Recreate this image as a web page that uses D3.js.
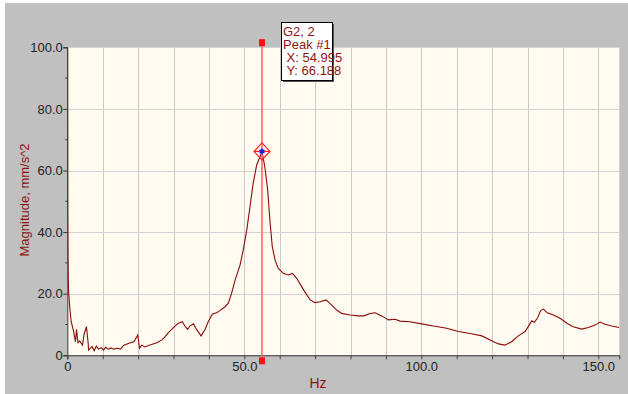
<!DOCTYPE html>
<html>
<head>
<meta charset="utf-8">
<script src="https://cdn.jsdelivr.net/npm/d3@7"></script>
<style>
  body { margin: 0; background: #fff; }
  svg { display: block; font-family: "Liberation Sans", Arial, sans-serif; }
</style>
</head>
<body>
<div id="chart"></div>
<script>
// spectrum (Hz, mm/s^2)
var freq = [0, 0.1, 0.25, 0.4, 0.76, 1.1, 1.8, 2.3, 2.6, 3.0, 3.5, 4.3, 4.7, 5.4, 5.9, 6.0, 7.0, 7.6, 8.2, 8.8,
  9.6, 10.2, 10.8, 11.6, 12.3, 13.2, 14.1, 15.0, 16.0, 17.4, 18.8, 19.1, 19.9, 20.4, 21.0, 21.9, 22.9, 23.8, 25.3, 26.7,
  27.6, 28.5, 29.5, 30.4, 31.4, 32.5, 33.2, 34.0, 34.6, 35.6, 36.5, 37.8, 38.9, 39.8, 41.0, 42.2, 43.1, 44.4, 45.5, 46.4,
  47.4, 48.8, 49.7, 50.7, 51.6, 52.5, 53.5, 54.995, 55.8, 56.6, 57.3, 57.9, 58.7, 59.6, 61.0, 62.4, 63.6, 64.8, 66.2, 67.1,
  68.6, 70.0, 71.4, 73.1, 74.7, 76.1, 77.5, 79.9, 82.2, 83.8, 85.5, 86.9, 88.8, 90.7, 92.6, 94.0, 96.8, 100.1, 103.4, 107.2,
  110.5, 113.8, 117.1, 119.4, 121.8, 123.6, 125.5, 127.4, 129.3, 130.2, 131.2, 131.9, 132.8, 133.7, 134.5, 135.6, 137.3, 139.2, 141.1,
  142.9, 145.3, 147.2, 149.1, 150.5, 151.9, 153.8, 155.9];
var mag = [120, 45, 25, 20, 14.7, 10.9, 7.7, 4.4, 8.4, 4.1, 4.6, 3.3, 6.6, 9.3, 3.9, 1.7, 2.8, 1.5, 3.0, 2.0,
  2.5, 1.7, 2.6, 2.0, 2.4, 2.0, 2.3, 2.0, 3.3, 3.9, 4.4, 5.0, 6.6, 2.3, 3.3, 2.7, 3.2, 3.5, 4.1, 5.0,
  6.0, 7.3, 8.4, 9.5, 10.4, 10.9, 9.5, 8.4, 9.5, 10.2, 8.4, 6.3, 8.4, 10.9, 13.4, 13.8, 14.5, 15.6, 16.9, 20.1,
  24.4, 29.3, 34.2, 40.7, 48.2, 55.8, 61.8, 66.188, 61.2, 53.7, 42.9, 35.3, 30.9, 28.2, 26.6, 26.1, 26.6, 25.0, 22.3, 20.6,
  18.0, 17.1, 17.4, 18.0, 16.3, 14.7, 13.6, 13.1, 12.8, 12.8, 13.6, 13.8, 12.8, 11.5, 11.7, 11.1, 10.9, 10.2, 9.5, 8.8,
  7.7, 7.1, 6.3, 5.0, 3.7, 3.3, 4.4, 6.3, 7.7, 9.3, 11.2, 10.7, 12.0, 14.5, 15.0, 13.8, 13.1, 12.0, 10.4,
  9.3, 8.5, 9.0, 9.8, 10.8, 10.1, 9.5, 9.0];

var yTicks = [0, 20, 40, 60, 80, 100];
var yTickLabels = ["0", "20.0", "40.0", "60.0", "80.0", "100.0"];
var xTicks = [0, 50, 100, 150];
var xTickLabels = ["0", "50.0", "100.0", "150.0"];
var peakLabel = ["G2, 2", "Peak #1", " X: 54.995", " Y: 66.188"];
var peak = {f: 54.995, v: 66.188};

(function() {
var width = 628, height = 394;
var pLeft = 67.3, pRight = 619.3, pTop = 47.3, pBottom = 355.3;
var darkRed = "#8e1414";

var svg = d3.select("#chart").append("svg")
    .attr("width", width)
    .attr("height", height);

// frame
svg.append("rect").attr("width", width).attr("height", height).attr("fill", "#ffffff");
svg.append("rect").attr("x", 5).attr("y", 3).attr("width", width - 5).attr("height", height - 3).attr("fill", "#c0c0c0");

var x = d3.scaleLinear().domain([0, 155.93]).range([pLeft, pRight]);
var y = d3.scaleLinear().domain([0, 100]).range([pBottom, pTop]);

svg.append("rect")
    .attr("x", pLeft).attr("y", pTop)
    .attr("width", pRight - pLeft).attr("height", pBottom - pTop)
    .attr("fill", "#fffbf0");

// grid
svg.append("g").selectAll("line")
    .data(d3.range(10, 156, 10))
    .enter().append("line")
    .attr("x1", d => Math.round(x(d)) + 0.5).attr("x2", d => Math.round(x(d)) + 0.5)
    .attr("y1", pTop).attr("y2", pBottom)
    .attr("stroke", "#cacaca");

svg.append("g").selectAll("line")
    .data(yTicks.slice(1))
    .enter().append("line")
    .attr("x1", pLeft).attr("x2", pRight)
    .attr("y1", d => Math.round(y(d)) + 0.5).attr("y2", d => Math.round(y(d)) + 0.5)
    .attr("stroke", "#d2d2d2");

// axes
var yAxis = d3.axisLeft(y).tickValues(yTicks).tickSize(4)
    .tickFormat((d, i) => yTickLabels[i]);
var gy = svg.append("g").attr("transform", "translate(" + pLeft + ",0)").call(yAxis);
gy.select(".domain").attr("stroke", "#333");
gy.selectAll(".tick line").attr("stroke", "#333");
gy.selectAll(".tick text").attr("font-size", 13).attr("fill", "#222").attr("x", -4.5)
    .attr("font-family", "Liberation Sans, Arial, sans-serif");

svg.append("g").selectAll("line")
    .data([10, 30, 50, 70, 90])
    .enter().append("line")
    .attr("x1", pLeft - 2).attr("x2", pLeft)
    .attr("y1", d => y(d)).attr("y2", d => y(d))
    .attr("stroke", "#333");

var xAxis = d3.axisBottom(x).tickValues(d3.range(0, 156, 10)).tickSize(4)
    .tickFormat(d => {
      var k = xTicks.indexOf(d);
      return k < 0 ? "" : xTickLabels[k];
    });
var gx = svg.append("g").attr("transform", "translate(0," + pBottom + ")").call(xAxis);
gx.select(".domain").attr("stroke", "#333");
gx.selectAll(".tick line").attr("stroke", "#444");
gx.selectAll(".tick text").attr("font-size", 13).attr("fill", "#222").attr("y", 6)
    .attr("font-family", "Liberation Sans, Arial, sans-serif");

// axis titles
svg.append("text")
    .attr("transform", "translate(29,200) rotate(-90)")
    .attr("text-anchor", "middle")
    .attr("font-size", 13)
    .attr("fill", darkRed)
    .text("Magnitude, mm/s^2");

svg.append("text")
    .attr("x", 318).attr("y", 388)
    .attr("text-anchor", "middle")
    .attr("font-size", 14)
    .attr("fill", darkRed)
    .text("Hz");

// the curve
svg.append("clipPath").attr("id", "plotclip")
    .append("rect").attr("x", pLeft).attr("y", pTop)
    .attr("width", pRight - pLeft).attr("height", pBottom - pTop);

var line = d3.line()
    .x(function(d, i) { return x(freq[i]); })
    .y(function(d) { return y(d); });

svg.append("path")
    .datum(mag)
    .attr("clip-path", "url(#plotclip)")
    .attr("d", line)
    .attr("fill", "none")
    .attr("stroke", "#8b0a0a")
    .attr("stroke-width", 1.1);

// peak cursor
var px = x(peak.f), py = y(peak.v);
svg.append("line")
    .attr("x1", px).attr("x2", px)
    .attr("y1", y(101.5)).attr("y2", pBottom + 5)
    .attr("stroke", "#ff6a6a").attr("stroke-width", 1.6);
svg.append("rect").attr("x", px - 3).attr("y", y(101.5) - 3.5).attr("width", 6).attr("height", 7).attr("fill", "#ff1010");
svg.append("rect").attr("x", px - 3).attr("y", pBottom + 2).attr("width", 6).attr("height", 7).attr("fill", "#ff1010");

svg.append("path")
    .attr("d", "M" + px + "," + (py - 8.5) + "L" + (px + 8) + "," + py + "L" + px + "," + (py + 8.5) + "L" + (px - 8) + "," + py + "Z" +
               "M" + (px - 8) + "," + py + "L" + (px + 8) + "," + py)
    .attr("fill", "none").attr("stroke", "#ff2020").attr("stroke-width", 1.2);
svg.append("path")
    .attr("d", d3.symbol(d3.symbolAsterisk, 22)())
    .attr("transform", "translate(" + px + "," + py + ")")
    .attr("fill", "none").attr("stroke", "#1010ff").attr("stroke-width", 1.6);

// peak label box
var box = svg.append("g").attr("transform", "translate(281.5,22.5)");
box.append("rect").attr("x", 1.5).attr("y", 1.5).attr("width", 51).attr("height", 58).attr("fill", "#555");
box.append("rect").attr("width", 51).attr("height", 58).attr("fill", "#fff").attr("stroke", "#000");
box.selectAll("text")
    .data(peakLabel)
    .enter().append("text")
    .attr("x", 1.5)
    .attr("y", (d, i) => 13.5 + i * 13)
    .attr("font-size", 13)
    .attr("fill", darkRed)
    .style("white-space", "pre")
    .attr("xml:space", "preserve")
    .text(d => d);
})();
</script>
</body>
</html>
